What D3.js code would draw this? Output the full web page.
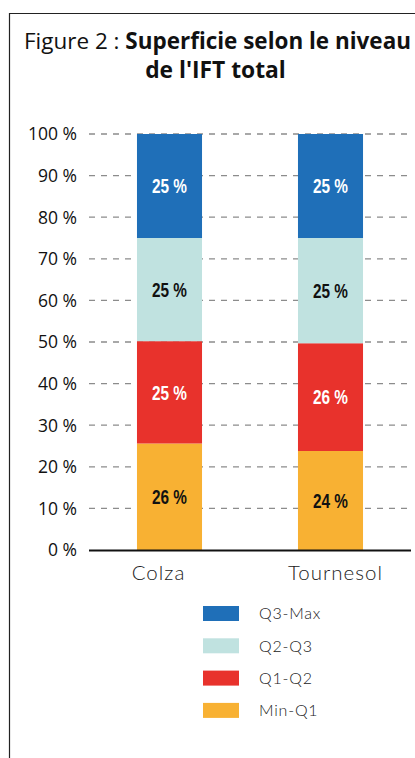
<!DOCTYPE html>
<html>
<head>
<meta charset="utf-8">
<script src="https://cdn.jsdelivr.net/npm/d3@7"></script>
<style>
  body { margin: 0; background: #fff; }
  svg { display: block; }
</style>
</head>
<body>
<svg width="415" height="758"></svg>
<script>
const categories = ["Colza", "Tournesol"];
const seriesNames = ["Min-Q1", "Q1-Q2", "Q2-Q3", "Q3-Max"];
const minQ1 = [25.6, 23.8];
const q1q2 = [24.6, 25.9];
const q2q3 = [24.8, 25.3];
const q3max = [25.0, 25.0];
const shownLabels = [["26 %", "25 %", "25 %", "25 %"], ["24 %", "26 %", "25 %", "25 %"]];
const yTicks = [0, 10, 20, 30, 40, 50, 60, 70, 80, 90, 100];
const colors = ["#f8b133", "#e8322c", "#c0e2e0", "#1f6fb8"];
const labelColors = ["#111", "#fff", "#111", "#fff"];

const svg = d3.select("svg");

// frame (left and top only, the rest is cut off)
svg.append("path")
  .attr("d", "M9.5,758 V13.5 H415")
  .attr("fill", "none").attr("stroke", "#222").attr("stroke-width", 1.2);

// title
const title = svg.append("text")
  .attr("x", 24).attr("y", 49)
  .style("font-family", "'Open Sans', sans-serif").style("font-size", "22.4px").attr("fill", "#111")
  .attr("textLength", 387).attr("lengthAdjust", "spacingAndGlyphs");
title.append("tspan").text("Figure 2 : ");
title.append("tspan").attr("font-weight", "bold").text("Superficie selon le niveau");
svg.append("text")
  .attr("x", 215.5).attr("y", 78).attr("text-anchor", "middle")
  .style("font-family", "'Open Sans', sans-serif").style("font-size", "22.8px")
  .attr("font-weight", "bold").attr("fill", "#111")
  .text("de l'IFT total");

const x = d3.scaleBand().domain(categories).range([89, 411]).paddingInner(0.596).paddingOuter(0.298);
const y = d3.scaleLinear().domain([0, 100]).range([550, 134]);
// category labels sit slightly off the bar centres in the original
const xLabel = d3.scalePoint().domain(categories).range([158.5, 335.5]);

// gridlines
svg.append("g").selectAll("line").data(yTicks.filter(d => d > 0)).join("line")
  .attr("x1", 89).attr("x2", 413)
  .attr("y1", d => y(d)).attr("y2", d => y(d))
  .attr("stroke", "#8c8c8c").attr("stroke-width", 1.3).attr("stroke-dasharray", "6,6");

// y tick labels
svg.append("g").selectAll("text").data(yTicks).join("text")
  .attr("x", 77).attr("y", d => y(d)).attr("dy", "0.36em").attr("text-anchor", "end")
  .style("font-family", "'Open Sans', sans-serif").style("font-size", "17.5px").attr("fill", "#111")
  .text(d => d + " %");

// stacked data
const rows = categories.map((c, i) => ({
  cat: c, "Min-Q1": minQ1[i], "Q1-Q2": q1q2[i], "Q2-Q3": q2q3[i], "Q3-Max": q3max[i]
}));
const stacked = d3.stack().keys(seriesNames)(rows);

const layers = svg.append("g").selectAll("g").data(stacked).join("g")
  .attr("fill", (d, i) => colors[i]);
layers.selectAll("rect").data(d => d).join("rect")
  .attr("x", d => x(d.data.cat))
  .attr("width", x.bandwidth())
  .attr("y", d => y(d[1]))
  .attr("height", d => y(d[0]) - y(d[1]));

// bar labels (condensed bold)
stacked.forEach((layer, si) => {
  svg.append("g").selectAll("text").data(layer).join("text")
    .attr("x", d => x(d.data.cat) + x.bandwidth() / 2 - 17.5)
    .attr("y", d => y((d[0] + d[1]) / 2))
    .attr("dy", "0.36em")
    .style("font-family", "'Liberation Sans', sans-serif")
    .style("font-size", "20px").attr("font-weight", "bold")
    .attr("textLength", 35).attr("lengthAdjust", "spacingAndGlyphs")
    .attr("fill", labelColors[si])
    .text((d, i) => shownLabels[i][si]);
});

// x axis baseline
svg.append("line")
  .attr("x1", 89).attr("x2", 411).attr("y1", 550.5).attr("y2", 550.5)
  .attr("stroke", "#111").attr("stroke-width", 2);

// category labels
svg.append("g").selectAll("text").data(categories).join("text")
  .attr("x", d => xLabel(d)).attr("y", 580).attr("text-anchor", "middle")
  .style("font-family", "Lato, sans-serif").style("font-size", "20.5px").attr("font-weight", 300)
  .attr("fill", "#222").attr("letter-spacing", "1px")
  .text(d => d);

// legend (top to bottom: Q3-Max ... Min-Q1)
const legendOrder = seriesNames.map((s, i) => ({ name: s, color: colors[i] })).reverse();
const lg = svg.append("g").selectAll("g").data(legendOrder).join("g")
  .attr("transform", (d, i) => `translate(203, ${606 + i * 32.3})`);
lg.append("rect").attr("width", 36).attr("height", 15).attr("fill", d => d.color);
lg.append("text").attr("x", 56).attr("y", 7.5).attr("dy", "0.36em")
  .style("font-family", "Lato, sans-serif").style("font-size", "16px").attr("font-weight", 300)
  .attr("fill", "#222").attr("letter-spacing", "0.8px")
  .text(d => d.name);
</script>
</body>
</html>
